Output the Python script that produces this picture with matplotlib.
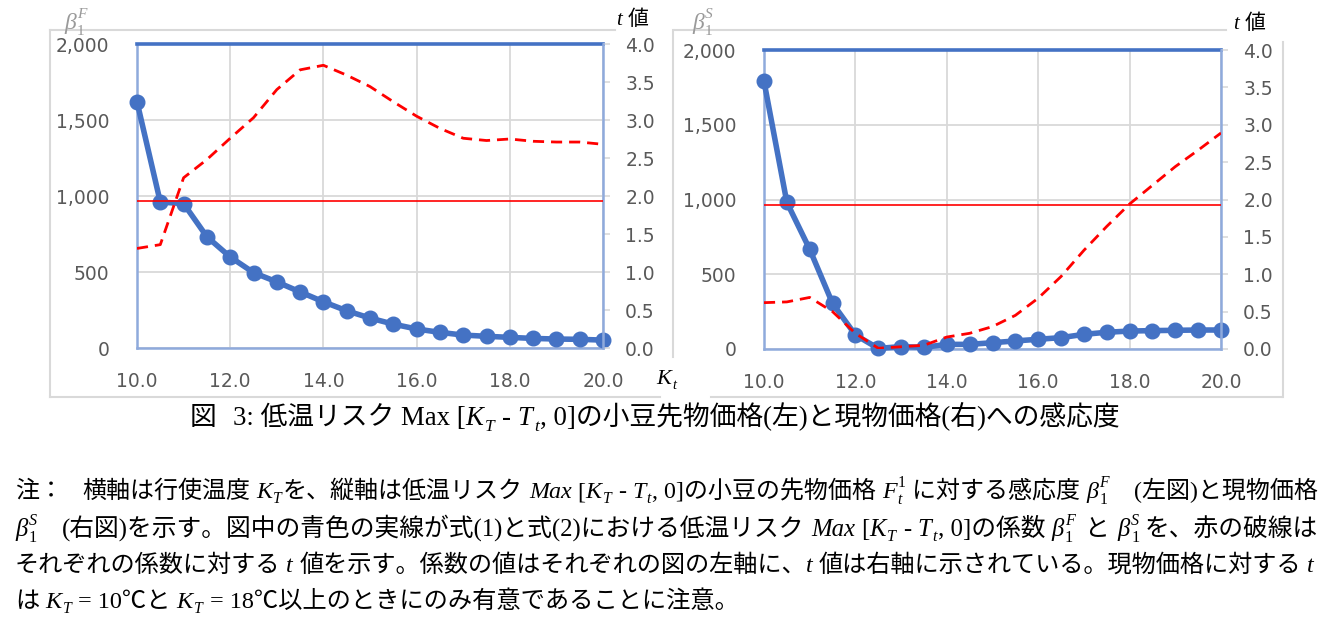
import matplotlib
matplotlib.use('Agg')
import matplotlib.pyplot as plt
from matplotlib.lines import Line2D
from matplotlib.ticker import FuncFormatter

W, H = 1334, 637

# ---------------- data ----------------
strike = [10.0, 10.5, 11.0, 11.5, 12.0, 12.5, 13.0, 13.5, 14.0, 14.5, 15.0,
          15.5, 16.0, 16.5, 17.0, 17.5, 18.0, 18.5, 19.0, 19.5, 20.0]
beta_F = [1620, 960, 950, 732, 599, 496, 435, 369, 304, 245, 197,
          157, 125, 103, 85, 77, 70, 63, 59, 57, 52]
t_F = [1.31, 1.36, 2.24, 2.48, 2.76, 3.03, 3.40, 3.66, 3.72, 3.59, 3.44,
       3.24, 3.05, 2.89, 2.76, 2.73, 2.75, 2.72, 2.71, 2.71, 2.68]
beta_S = [1790, 981, 667, 305, 94, 4, 16, 11, 31, 31, 42,
          54, 65, 76, 98, 112, 120, 123, 125, 127, 127]
t_S = [0.62, 0.63, 0.69, 0.50, 0.21, 0.01, 0.03, 0.05, 0.16, 0.21, 0.30,
       0.45, 0.68, 0.97, 1.32, 1.64, 1.94, 2.19, 2.44, 2.66, 2.89]
t_crit_F = 1.93
t_crit_S = 1.92
x_ticks = [10.0, 12.0, 14.0, 16.0, 18.0, 20.0]
beta_ticks = [0, 500, 1000, 1500, 2000]
t_ticks = [0.0, 0.5, 1.0, 1.5, 2.0, 2.5, 3.0, 3.5, 4.0]

BLUE = '#4472C4'
SPINE = '#8FAADC'
GRID = '#D9D9D9'
TICKC = '#595959'
SERIF = ['Liberation Serif', 'Noto Sans CJK JP']

fig = plt.figure(figsize=(W / 100, H / 100), dpi=100)


def px_axes(l, t, r, b):
    return fig.add_axes([l / W, 1 - b / H, (r - l) / W, (b - t) / H])


def make_panel(box, beta, tval, tcrit):
    ax = px_axes(*box)
    ax.set_xlim(10, 20)
    ax.set_ylim(0, 2000)
    ax.set_xticks(x_ticks)
    ax.set_yticks(beta_ticks)
    ax.xaxis.set_major_formatter(FuncFormatter(lambda v, p: f'{v:.1f}'))
    ax.yaxis.set_major_formatter(FuncFormatter(lambda v, p: f'{int(v):,}'))
    ax.grid(True, color=GRID, lw=1.3)
    ax.set_axisbelow(True)
    ax.tick_params(axis='both', length=0, labelsize=13.5, labelcolor=TICKC)
    ax.tick_params(axis='y', pad=20)
    ax.tick_params(axis='x', pad=17)
    for s in ['left', 'bottom']:
        ax.spines[s].set_color(SPINE)
        ax.spines[s].set_linewidth(1.8)
    ax.spines['right'].set_visible(False)
    ax.spines['top'].set_color(BLUE)
    ax.spines['top'].set_linewidth(2.6)
    ax.plot(strike, beta, color=BLUE, lw=4, marker='o', ms=10.5, clip_on=False, zorder=3)

    ax2 = ax.twinx()
    ax2.set_ylim(0, 4)
    ax2.set_yticks(t_ticks)
    ax2.yaxis.set_major_formatter(FuncFormatter(lambda v, p: f'{v:.1f}'))
    ax2.tick_params(axis='y', length=5, width=1.2, color=GRID, direction='out',
                    labelsize=13.5, labelcolor=TICKC, pad=11)
    for s in ['left', 'bottom', 'top']:
        ax2.spines[s].set_visible(False)
    ax2.spines['right'].set_color(SPINE)
    ax2.spines['right'].set_linewidth(1.8)
    ax2.plot(strike, tval, color='#FF0000', lw=2.0, ls=(0, (4, 2.5)), zorder=4)
    ax2.plot([strike[0], strike[-1]], [tcrit, tcrit], color='#FF0000', lw=1.2, zorder=4)
    return ax, ax2


make_panel((137, 44, 603, 348), beta_F, t_F, t_crit_F)
make_panel((764, 50, 1221, 349), beta_S, t_S, t_crit_S)


def pline(x0, y0, x1, y1, color=GRID, lw=1.5):
    fig.add_artist(Line2D([x0 / W, x1 / W], [1 - y0 / H, 1 - y1 / H],
                          transform=fig.transFigure, color=color, lw=lw))


# chart frames
pline(50, 30, 615, 30)
pline(50, 30, 50, 397)
pline(50, 397, 660, 397)
pline(675, 30, 1226, 30)
pline(673, 30, 673, 357)
pline(711, 397, 1282, 397)
pline(1283, 42, 1283, 397)

renderer = fig.canvas.get_renderer()


def layout(x0, yb, segs, size, color):
    px = size * 100 / 72
    x = x0
    arts = []

    def put(s, xx, dy, fs, it):
        t = fig.text(xx / W, 1 - (yb - dy) / H, s, fontsize=fs, family=SERIF,
                     style='italic' if it else 'normal', color=color,
                     ha='left', va='baseline')
        arts.append(t)
        return t.get_window_extent(renderer).width

    for seg in segs:
        kind = seg[0]
        if kind == 'gap':
            x += seg[1] * px
        elif kind == 'T':
            x += put(seg[1], x, 0, size, False)
        elif kind == 'I':
            x += put(seg[1], x, 0, size, True) + 0.05 * px
        elif kind == 'sub':
            x += put(seg[1], x, -0.22 * px, size * 0.65, seg[2]) + 0.03 * px
        elif kind == 'sup':
            x += put(seg[1], x, 0.42 * px, size * 0.65, seg[2]) + 0.03 * px
        elif kind == 'ss':
            w1 = put(seg[1], x, -0.25 * px, size * 0.65, seg[3])
            w2 = put(seg[2], x, 0.45 * px, size * 0.65, seg[4])
            x += max(w1, w2) + 0.03 * px
    return arts, x - x0


def rich(x0, yb, segs, size, color='black', target=None):
    arts, w = layout(x0, yb, segs, size, color)
    if target is not None:
        for a in arts:
            a.remove()
        size = size * target / w
        arts, w = layout(x0, yb, segs, size, color)
    return size


# axis labels
GRAY = '#9A9A9A'
rich(64, 29, [('I', 'β'), ('ss', '1', 'F', False, True)], 17, GRAY)
rich(692, 29, [('I', 'β'), ('ss', '1', 'S', False, True)], 17, GRAY)
rich(616, 25, [('I', 't'), ('gap', 0.25), ('T', '値')], 15)
rich(1233, 29, [('I', 't'), ('gap', 0.25), ('T', '値')], 15)
rich(656, 384, [('I', 'K'), ('sub', 't', True)], 16)

# caption
cap = [('T', '図'), ('gap', 0.6), ('T', '3: 低温リスク Max ['), ('I', 'K'), ('sub', 'T', True),
       ('gap', 0.25), ('T', '-'), ('gap', 0.25), ('I', 'T'), ('sub', 't', True),
       ('T', ', 0]の小豆先物価格(左)と現物価格(右)への感応度')]
rich(190, 425, cap, 16, target=932)

kt = [('I', 'K'), ('sub', 'T', True)]
maxk = [('I', 'Max'), ('gap', 0.2), ('T', '[')] + kt + [('gap', 0.25), ('T', '-'), ('gap', 0.25),
                                                      ('I', 'T'), ('sub', 't', True)]
bF = [('I', 'β'), ('ss', '1', 'F', False, True)]
bS = [('I', 'β'), ('ss', '1', 'S', False, True)]

line1 = ([('T', '注：'), ('gap', 0.8), ('T', '横軸は行使温度'), ('gap', 0.25)] + kt +
         [('T', 'を、縦軸は低温リスク'), ('gap', 0.25)] + maxk +
         [('T', ', 0]の小豆の先物価格'), ('gap', 0.25), ('I', 'F'), ('ss', 't', '1', True, False),
          ('gap', 0.25), ('T', 'に対する感応度'), ('gap', 0.25)] + bF +
         [('gap', 1.0), ('T', '(左図)と現物価格')])
line2 = (bS + [('gap', 1.0), ('T', '(右図)を示す。図中の青色の実線が式(1)と式(2)における低温リスク'),
               ('gap', 0.25)] + maxk +
         [('T', ', 0]の係数'), ('gap', 0.25)] + bF + [('gap', 0.35), ('T', 'と'), ('gap', 0.35)] + bS +
         [('gap', 0.2), ('T', 'を、赤の破線は')])
line3 = [('T', 'それぞれの係数に対する'), ('gap', 0.25), ('I', 't'), ('gap', 0.2),
         ('T', '値を示す。係数の値はそれぞれの図の左軸に、'), ('I', 't'), ('gap', 0.2),
         ('T', '値は右軸に示されている。現物価格に対する'), ('gap', 0.25), ('I', 't')]
line4 = ([('T', 'は'), ('gap', 0.25)] + kt + [('gap', 0.25), ('T', '= 10℃と'), ('gap', 0.25)] + kt +
         [('gap', 0.25), ('T', '= 18℃以上のときにのみ有意であることに注意。')])

s1 = rich(15, 498, line1, 14, target=1307)
s2 = rich(15, 536, line2, 14, target=1307)
s3 = rich(15, 572, line3, 14, target=1307)
rich(15, 608, line4, (s1 + s2 + s3) / 3)

fig.savefig('out.png', dpi=100)
